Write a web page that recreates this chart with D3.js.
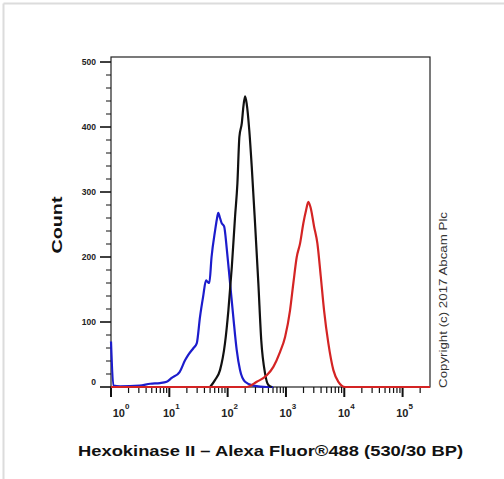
<!doctype html>
<html>
<head>
<meta charset="UTF-8">
<style>
  body { margin: 0; background: #fff; }
  svg { display: block; }
</style>
</head>
<body>
<svg id="chart" width="504" height="479"></svg>
<script src="https://d3js.org/d3.v7.min.js"></script>
<script>

// Data (fluorescence intensity, event count)
var blueX = [1, 1.1, 1.43, 3.1, 4.7, 6.9, 9.0, 11, 15, 18.6, 21, 26, 29.5, 33.6, 38, 42.6, 45, 48.5, 53, 61, 65, 69, 74, 79, 87, 97, 110, 125, 143, 163, 199, 276, 469, 600];
var blueY = [70, 2, 1, 2, 5, 6, 8, 14, 23, 41, 49, 60, 67, 108, 139, 164, 162, 160, 200, 241, 257, 268, 260, 252, 247, 211, 160, 108, 57, 26, 8, 2, 0, 0];

var blackX = [50, 61, 74, 90, 103, 118, 134, 147, 159, 175, 186, 199, 212, 235, 259, 295, 336, 377, 438, 499, 571];
var blackY = [0, 11, 26, 67, 118, 185, 262, 313, 385, 406, 431, 447, 436, 395, 339, 252, 160, 72, 21, 3, 0];

var redX = [1, 213, 316, 469, 608, 793, 966, 1175, 1340, 1531, 1746, 1987, 2212, 2422, 2663, 3033, 3458, 3954, 4500, 5336, 6500, 7925, 10330, 295000];
var redY = [0, 0, 8, 18, 31, 54, 77, 118, 160, 200, 221, 252, 272, 285, 275, 247, 221, 170, 118, 67, 26, 8, 0, 0];

var xDecades = [1, 10, 100, 1000, 10000, 100000];
var xExponents = ["0", "1", "2", "3", "4", "5"];
var yTicks = [0, 100, 200, 300, 400, 500];

var svg = d3.select("#chart");

// outer frame of the screenshot
svg.append("line").attr("x1", 3.5).attr("y1", 3.5).attr("x2", 504).attr("y2", 3.5)
    .style("stroke", "#dcdcdc").style("stroke-width", 2);
svg.append("line").attr("x1", 3.5).attr("y1", 3.5).attr("x2", 3.5).attr("y2", 479)
    .style("stroke", "#dcdcdc").style("stroke-width", 2);

var plotLeft = 111, plotRight = 430, plotTop = 57, plotBottom = 387;

var x = d3.scaleLog().domain([1, 295000]).range([plotLeft, plotRight]);
var y = d3.scaleLinear().domain([0, 507.7]).range([plotBottom, plotTop]);

// plot box
svg.append("rect")
    .attr("x", plotLeft).attr("y", plotTop)
    .attr("width", plotRight - plotLeft).attr("height", plotBottom - plotTop)
    .attr("fill", "none")
    .style("stroke", "#222").style("stroke-width", 1.2);

// y axis ticks
var yMinor = d3.range(0, 501, 20);
svg.append("g").selectAll("line")
    .data(yMinor).enter().append("line")
    .attr("x1", function (d) { return d % 100 === 0 ? plotLeft - 11 : plotLeft - 5; })
    .attr("x2", plotLeft)
    .attr("y1", function (d) { return y(d); })
    .attr("y2", function (d) { return y(d); })
    .style("stroke", "#111")
    .style("stroke-width", function (d) { return d % 100 === 0 ? 1.6 : 1; });

svg.append("g").selectAll("text")
    .data(yTicks).enter().append("text")
    .attr("x", 96)
    .attr("y", function (d) { return y(d) + (d === 0 ? -2 : 3); })
    .attr("text-anchor", "end")
    .style("font-family", "Liberation Sans, Arial, sans-serif")
    .style("font-weight", "bold")
    .style("font-size", "8.5px")
    .style("fill", "#222")
    .text(function (d) { return d; });

// x axis ticks
var xTicks = x.ticks().filter(function (d) { return d <= 295000; });
svg.append("g").selectAll("line")
    .data(xTicks).enter().append("line")
    .attr("x1", function (d) { return x(d); })
    .attr("x2", function (d) { return x(d); })
    .attr("y1", plotBottom)
    .attr("y2", function (d) { return xDecades.indexOf(d) >= 0 ? plotBottom + 10 : plotBottom + 6; })
    .style("stroke", "#111")
    .style("stroke-width", function (d) { return xDecades.indexOf(d) >= 0 ? 2 : 1.2; });

var xl = svg.append("g").selectAll("text")
    .data(xDecades).enter().append("text")
    .attr("x", function (d, i) { return i === 0 ? x(d) + 10 : x(d) + 2; })
    .attr("y", 417)
    .attr("text-anchor", "middle")
    .style("font-family", "Liberation Sans, Arial, sans-serif")
    .style("font-weight", "bold")
    .style("font-size", "11px")
    .style("fill", "#222");
xl.append("tspan").text("10");
xl.append("tspan")
    .attr("dy", -8)
    .style("font-size", "8px")
    .text(function (d, i) { return xExponents[i]; });

// histogram lines
var line = d3.line()
    .x(function (d) { return x(d[0]); })
    .y(function (d) { return y(d[1]); })
    .curve(d3.curveMonotoneX);

function series(xs, ys) {
    return xs.map(function (v, i) { return [v, ys[i]]; });
}

svg.append("path").datum(series(blueX, blueY))
    .attr("d", line).attr("fill", "none")
    .style("stroke", "#1c1ccc").style("stroke-width", 2.2);
svg.append("path").datum(series(blackX, blackY))
    .attr("d", line).attr("fill", "none")
    .style("stroke", "#111").style("stroke-width", 2.2);
svg.append("path").datum(series(redX, redY))
    .attr("d", line).attr("fill", "none")
    .style("stroke", "#d42424").style("stroke-width", 2.2);

// axis titles
svg.append("text")
    .attr("transform", "translate(62,225) rotate(-90)")
    .attr("text-anchor", "middle")
    .attr("textLength", 57)
    .attr("lengthAdjust", "spacingAndGlyphs")
    .style("font-family", "Liberation Sans, Arial, sans-serif")
    .style("font-weight", "bold")
    .style("font-size", "15px")
    .style("fill", "#111")
    .text("Count");

svg.append("text")
    .attr("x", 270.5)
    .attr("y", 456)
    .attr("text-anchor", "middle")
    .attr("textLength", 385)
    .attr("lengthAdjust", "spacingAndGlyphs")
    .style("font-family", "Liberation Sans, Arial, sans-serif")
    .style("font-weight", "bold")
    .style("font-size", "15.5px")
    .style("fill", "#111")
    .text("Hexokinase II \u2013 Alexa Fluor\u00ae488 (530/30 BP)");

svg.append("text")
    .attr("transform", "translate(446.5,300) rotate(-90)")
    .attr("text-anchor", "middle")
    .attr("textLength", 176)
    .attr("lengthAdjust", "spacingAndGlyphs")
    .style("font-family", "Liberation Sans, Arial, sans-serif")
    .style("font-size", "10.5px")
    .style("fill", "#333")
    .text("Copyright (c) 2017 Abcam Plc");

</script>
</body>
</html>
